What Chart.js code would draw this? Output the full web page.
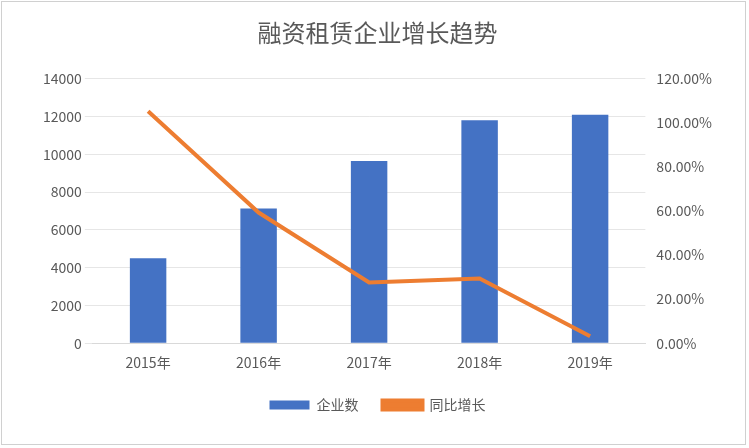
<!DOCTYPE html>
<html><head><meta charset="utf-8">
<script src="https://cdn.jsdelivr.net/npm/chart.js@4/dist/chart.umd.min.js"></script>
<style>
body{margin:0;background:#fff}
#box{position:absolute;left:1px;top:1px;width:745px;height:444px;border:1px solid #d0d0d0;box-sizing:border-box}
</style></head><body>
<div id="box"><canvas id="c"></canvas></div>
<script>
// 数据
const years = ['2015年', '2016年', '2017年', '2018年', '2019年'];
const companies = [4500, 7130, 9650, 11800, 12100];
const growth = [1.053, 0.593, 0.276, 0.294, 0.032];

Chart.defaults.font.family = "'Noto Sans CJK SC', sans-serif";
Chart.defaults.color = '#595959';

new Chart(document.getElementById('c'), {
    data: {
        labels: years,
        datasets: [
            { type: 'line', label: '同比增长', data: growth, yAxisID: 'y1', borderColor: '#ED7D31', backgroundColor: '#ED7D31', borderWidth: 4, pointRadius: 0, tension: 0, order: 0 },
            { type: 'bar', label: '企业数', data: companies, yAxisID: 'y', backgroundColor: '#4472C4', barPercentage: 0.6, categoryPercentage: 0.55, order: 1 }
        ]
    },
    options: {
        responsive: true,
        maintainAspectRatio: false,
        animation: false,
        layout: { padding: { left: 38, right: 30, top: 10, bottom: 22 } },
        plugins: {
            title: { display: true, text: '融资租赁企业增长趋势', font: { size: 24, weight: 'normal' }, color: '#595959', padding: { top: 6, bottom: 32 } },
            legend: {
                position: 'bottom', reverse: true,
                labels: { boxWidth: 40, boxHeight: 9, font: { size: 14 }, color: '#595959', padding: 24 }
            }
        },
        scales: {
            x: { grid: { display: false }, border: { color: '#d9d9d9' }, ticks: { font: { size: 14 } } },
            y: { position: 'left', min: 0, max: 14000, ticks: { stepSize: 2000, font: { size: 14 }, callback: v => String(v) }, grid: { color: '#e6e6e6' }, border: { display: false } },
            y1: { position: 'right', min: 0, max: 1.2, ticks: { stepSize: 0.2, font: { size: 14 }, callback: v => (v * 100).toFixed(2) + '%' }, grid: { display: false }, border: { display: false } }
        }
    }
});
</script></body></html>
